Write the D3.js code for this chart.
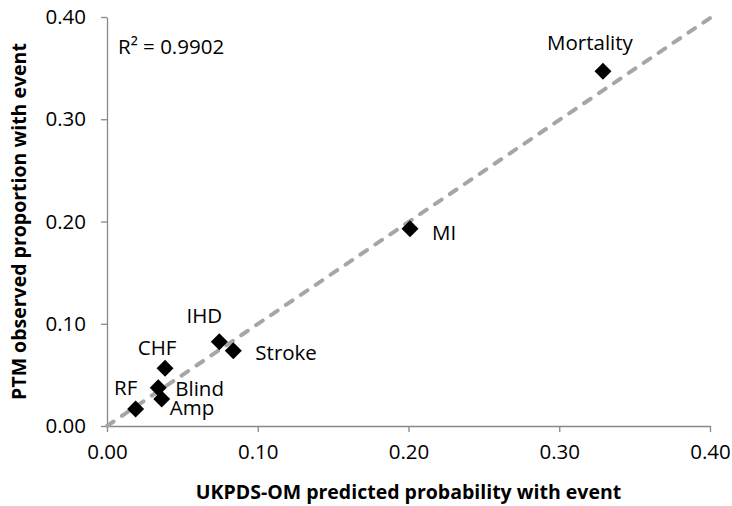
<!DOCTYPE html>
<html>
<head>
<meta charset="utf-8">
<script src="https://cdn.jsdelivr.net/npm/d3@7"></script>
<style>
  html, body { margin: 0; padding: 0; background: #fff; }
  #chart { width: 732px; height: 506px; }
  text { font-family: 'Open Sans', sans-serif; fill: #000; }
</style>
</head>
<body>
<div id="chart"></div>
<script>
// chart data
const events = ['Mortality', 'MI', 'IHD', 'Stroke', 'CHF', 'Blind', 'Amp', 'RF'];
const predicted = [0.329, 0.201, 0.0745, 0.0838, 0.0385, 0.034, 0.0363, 0.019];
const observed = [0.347, 0.193, 0.0824, 0.0736, 0.0564, 0.0375, 0.0264, 0.0166];
const trendX = [0, 0.40];
const trendY = [0, 0.399];
const tickValues = [0, 0.1, 0.2, 0.3, 0.4];
const rSquaredLabel = 'R² = 0.9902';
const xTitle = 'UKPDS-OM predicted probability with event';
const yTitle = 'PTM observed proportion with event';

const width = 732;
const height = 506;
const margin = { top: 17, right: 22, bottom: 80, left: 107 };
const innerW = width - margin.left - margin.right;
const innerH = height - margin.top - margin.bottom;

const svg = d3.select('#chart')
  .append('svg')
  .attr('width', width)
  .attr('height', height);

const g = svg.append('g')
  .attr('transform', `translate(${margin.left},${margin.top})`);

const x = d3.scaleLinear().domain([0, 0.4]).range([0, innerW]);
const y = d3.scaleLinear().domain([0, 0.4]).range([innerH, 0]);

// axes
const xAxis = g.append('g')
  .attr('transform', `translate(0,${innerH})`)
  .call(d3.axisBottom(x).tickValues(tickValues).tickFormat(d3.format('.2f')).tickSizeInner(6).tickSizeOuter(0).tickPadding(12));

const yAxis = g.append('g')
  .call(d3.axisLeft(y).tickValues(tickValues).tickFormat(d3.format('.2f')).tickSizeInner(6).tickSizeOuter(0).tickPadding(15));

[xAxis, yAxis].forEach(ax => {
  ax.select('.domain').attr('stroke', '#888').attr('stroke-width', 1.3);
  ax.selectAll('.tick line').attr('stroke', '#888').attr('stroke-width', 1.3);
  ax.selectAll('.tick text')
    .attr('font-family', "'Open Sans', sans-serif")
    .attr('font-size', '20.5px')
    .attr('fill', '#000');
});
xAxis.selectAll('.tick text').attr('dy', '0.71em');

// trend line
g.append('path')
  .datum(trendX.map((d, i) => [d, trendY[i]]))
  .attr('fill', 'none')
  .attr('stroke', '#a6a6a6')
  .attr('stroke-width', 4)
  .attr('stroke-linecap', 'round')
  .attr('stroke-dasharray', '8,10')
  .attr('d', d3.line().x(d => x(d[0])).y(d => y(d[1])));

// markers
const diamond = d3.symbol().type(d3.symbolSquare).size(144);
g.selectAll('.marker')
  .data(events)
  .enter()
  .append('path')
  .attr('class', 'marker')
  .attr('d', diamond)
  .attr('fill', '#000')
  .attr('transform', (d, i) => `translate(${x(predicted[i])},${y(observed[i])}) rotate(45)`);

// point labels: [dx, dy, anchor]
const labelPlacement = {
  Mortality: [-13, -28, 'middle'],
  MI: [22, 4, 'start'],
  IHD: [-15, -26, 'middle'],
  Stroke: [22, 2, 'start'],
  CHF: [-8, -21, 'middle'],
  Blind: [17, 1, 'start'],
  Amp: [8, 9, 'start'],
  RF: [-10, -21, 'middle']
};

g.selectAll('.point-label')
  .data(events)
  .enter()
  .append('text')
  .attr('class', 'point-label')
  .attr('x', (d, i) => x(predicted[i]) + labelPlacement[d][0])
  .attr('y', (d, i) => y(observed[i]) + labelPlacement[d][1])
  .attr('dy', '0.35em')
  .attr('text-anchor', d => labelPlacement[d][2])
  .attr('font-size', '20.5px')
  .text(d => d);

// R squared
g.append('text')
  .attr('x', 11)
  .attr('y', 30)
  .attr('dy', '0.35em')
  .attr('font-size', '20.5px')
  .text(rSquaredLabel);

// axis titles
svg.append('text')
  .attr('x', margin.left + innerW / 2)
  .attr('y', 492)
  .attr('dy', '0.35em')
  .attr('text-anchor', 'middle')
  .attr('font-weight', 'bold')
  .attr('font-size', '19.5px')
  .text(xTitle);

svg.append('text')
  .attr('transform', `translate(19,${margin.top + innerH / 2}) rotate(-90)`)
  .attr('dy', '0.35em')
  .attr('text-anchor', 'middle')
  .attr('font-weight', 'bold')
  .attr('font-size', '19.5px')
  .text(yTitle);
</script>
</body>
</html>
